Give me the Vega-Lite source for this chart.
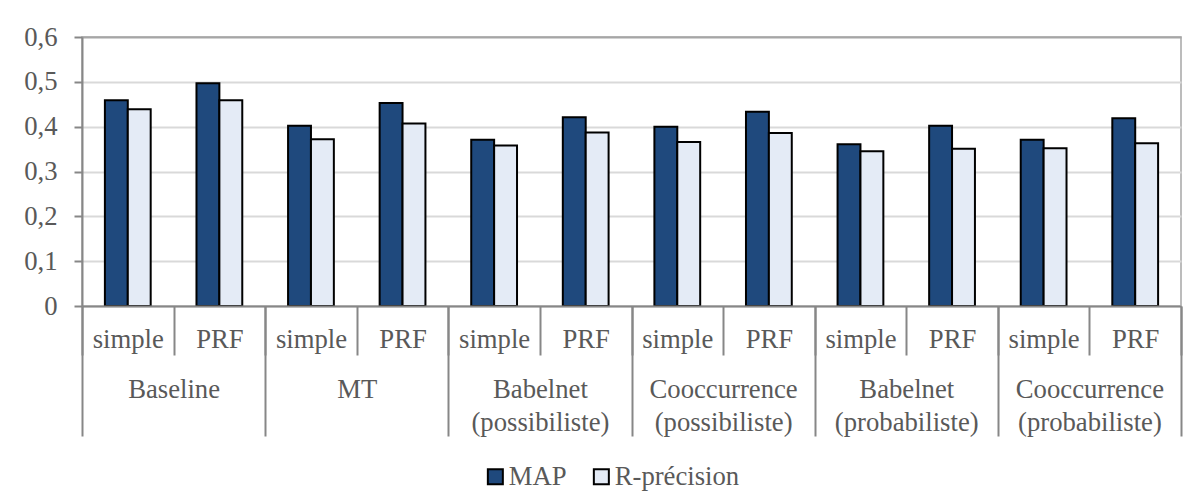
{
  "$schema": "https://vega.github.io/schema/vega-lite/v6.json",
  "width": 1099,
  "height": 269,
  "autosize": {"type": "none"},
  "padding": {"left": 82, "top": 37, "right": 5, "bottom": 186},
  "background": "white",
  "config": {
    "font": "Liberation Serif",
    "view": {"stroke": "#a6a6a6", "strokeWidth": 1.5},
    "axis": {
      "labelFont": "Liberation Serif",
      "labelFontSize": 26.7,
      "labelColor": "#595959",
      "domainColor": "#878787",
      "domainWidth": 2,
      "tickColor": "#878787",
      "tickWidth": 2,
      "title": null,
      "labelLimit": 0
    }
  },
  "datasets": {
    "scores": [
      {"group": "Baseline", "key": "Baseline|simple", "series": "MAP", "value": 0.459},
      {"group": "Baseline", "key": "Baseline|simple", "series": "R-précision", "value": 0.439},
      {"group": "Baseline", "key": "Baseline|PRF", "series": "MAP", "value": 0.497},
      {"group": "Baseline", "key": "Baseline|PRF", "series": "R-précision", "value": 0.459},
      {"group": "MT", "key": "MT|simple", "series": "MAP", "value": 0.402},
      {"group": "MT", "key": "MT|simple", "series": "R-précision", "value": 0.372},
      {"group": "MT", "key": "MT|PRF", "series": "MAP", "value": 0.453},
      {"group": "MT", "key": "MT|PRF", "series": "R-précision", "value": 0.407},
      {"group": "Babelnet\n(possibiliste)", "key": "BabPoss|simple", "series": "MAP", "value": 0.371},
      {"group": "Babelnet\n(possibiliste)", "key": "BabPoss|simple", "series": "R-précision", "value": 0.358},
      {"group": "Babelnet\n(possibiliste)", "key": "BabPoss|PRF", "series": "MAP", "value": 0.421},
      {"group": "Babelnet\n(possibiliste)", "key": "BabPoss|PRF", "series": "R-précision", "value": 0.387},
      {"group": "Cooccurrence\n(possibiliste)", "key": "CoocPoss|simple", "series": "MAP", "value": 0.400},
      {"group": "Cooccurrence\n(possibiliste)", "key": "CoocPoss|simple", "series": "R-précision", "value": 0.366},
      {"group": "Cooccurrence\n(possibiliste)", "key": "CoocPoss|PRF", "series": "MAP", "value": 0.433},
      {"group": "Cooccurrence\n(possibiliste)", "key": "CoocPoss|PRF", "series": "R-précision", "value": 0.386},
      {"group": "Babelnet\n(probabiliste)", "key": "BabProb|simple", "series": "MAP", "value": 0.361},
      {"group": "Babelnet\n(probabiliste)", "key": "BabProb|simple", "series": "R-précision", "value": 0.345},
      {"group": "Babelnet\n(probabiliste)", "key": "BabProb|PRF", "series": "MAP", "value": 0.402},
      {"group": "Babelnet\n(probabiliste)", "key": "BabProb|PRF", "series": "R-précision", "value": 0.351},
      {"group": "Cooccurrence\n(probabiliste)", "key": "CoocProb|simple", "series": "MAP", "value": 0.371},
      {"group": "Cooccurrence\n(probabiliste)", "key": "CoocProb|simple", "series": "R-précision", "value": 0.352},
      {"group": "Cooccurrence\n(probabiliste)", "key": "CoocProb|PRF", "series": "MAP", "value": 0.419},
      {"group": "Cooccurrence\n(probabiliste)", "key": "CoocProb|PRF", "series": "R-précision", "value": 0.363}
    ]
  },
  "data": {"name": "scores"},
  "layer": [
    {
      "mark": {"type": "bar", "stroke": "black", "strokeWidth": 2},
      "encoding": {
        "x": {
          "field": "key",
          "type": "nominal",
          "sort": null,
          "scale": {"paddingInner": 0, "paddingOuter": 0},
          "axis": {
            "orient": "bottom",
            "labelExpr": "datum.value ? split(datum.value, '|')[1] : ''",
            "labelAngle": 0,
            "tickBand": "extent",
            "tickSize": 49,
            "labelBaseline": "top",
            "labelPadding": -29,
            "zindex": 1
          }
        },
        "xOffset": {
          "field": "series",
          "type": "nominal",
          "scale": {"paddingInner": 0, "paddingOuter": 1.05}
        },
        "y": {
          "field": "value",
          "type": "quantitative",
          "scale": {"domain": [0, 0.6], "nice": false},
          "axis": {
            "values": [0, 0.1, 0.2, 0.3, 0.4, 0.5, 0.6],
            "labelExpr": "datum.value === 0 ? '0' : replace(format(datum.value, '.1f'), '.', ',')",
            "tickSize": 8,
            "labelPadding": 17,
            "gridColor": {"condition": {"test": "datum.value > 0.55", "value": "#a6a6a6"}, "value": "#d9d9d9"},
            "gridWidth": 2
          }
        },
        "color": {
          "field": "series",
          "type": "nominal",
          "scale": {"domain": ["MAP", "R-précision"], "range": ["#1F497D", "#e4ebf6"]},
          "legend": {
            "title": null,
            "orient": "none",
            "direction": "horizontal",
            "legendX": 400,
            "legendY": 426,
            "symbolType": "square",
            "symbolSize": 225,
            "symbolStrokeColor": "black",
            "symbolStrokeWidth": 2,
            "labelFont": "Liberation Serif",
            "labelFontSize": 26.7,
            "labelColor": "#595959",
            "labelOffset": 0,
            "columnPadding": 21
          }
        }
      }
    },
    {
      "mark": {"type": "text", "text": ""},
      "encoding": {
        "x": {
          "field": "group",
          "type": "nominal",
          "sort": null,
          "scale": {"paddingInner": 0, "paddingOuter": 0},
          "axis": {
            "orient": "bottom",
            "labelExpr": "datum.value ? split(datum.value, '\\n') : ''",
            "labelAngle": 0,
            "tickBand": "extent",
            "tickSize": 130,
            "labelBaseline": "top",
            "labelPadding": -60,
            "labelLineHeight": 33,
            "domain": false,
            "zindex": 1
          }
        }
      }
    }
  ],
  "resolve": {"scale": {"x": "independent"}, "axis": {"x": "independent"}}
}
